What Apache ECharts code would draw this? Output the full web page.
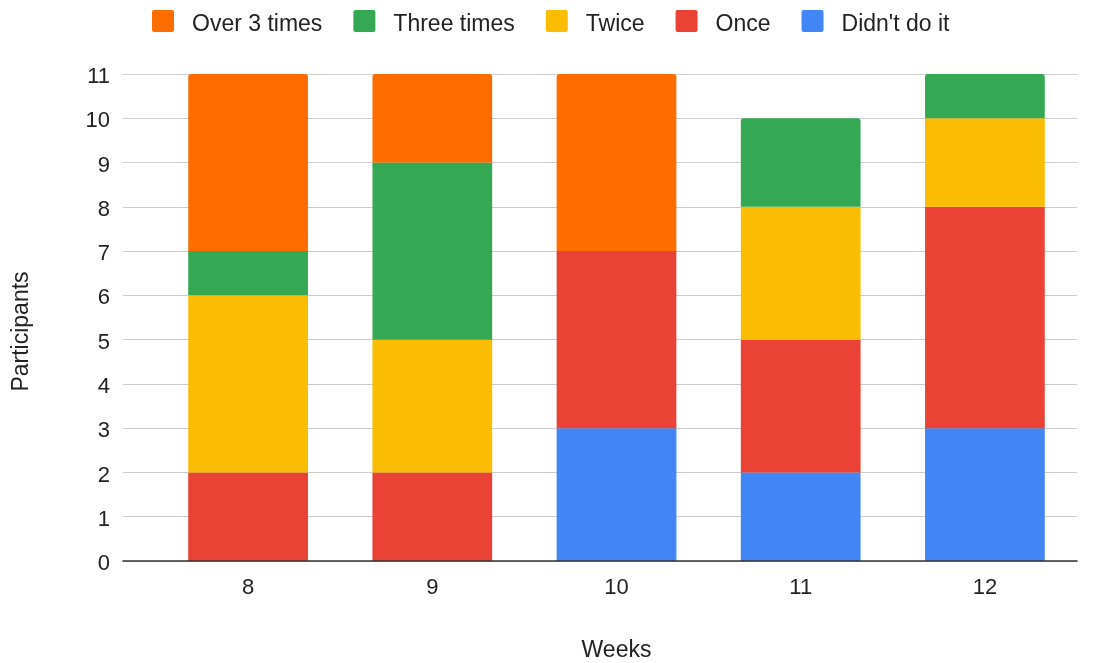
<!DOCTYPE html>
<html>
<head>
<meta charset="utf-8">
<script src="https://cdn.jsdelivr.net/npm/echarts@6/dist/echarts.min.js"></script>
<style>
  html, body { margin: 0; padding: 0; background: #fff; }
  #chart { width: 1102px; height: 663px; }
</style>
</head>
<body>
<div id="chart"></div>
<script>
// Weekly participation counts, stacked from "Didn't do it" upward
const weeks = ['8', '9', '10', '11', '12'];
const didntDoIt = [0, 0, 3, 2, 3];
const once = [2, 2, 4, 3, 5];
const twice = [4, 3, 0, 3, 2];
const threeTimes = [1, 4, 0, 2, 1];
const overThree = [4, 2, 4, 0, 0];
const legendOrder = ['Over 3 times', 'Three times', 'Twice', 'Once', "Didn't do it"];
const yMax = 11;

const stackSeries = [
  { name: "Didn't do it", data: didntDoIt, color: '#4285F4' },
  { name: 'Once', data: once, color: '#EA4335' },
  { name: 'Twice', data: twice, color: '#FBBC04' },
  { name: 'Three times', data: threeTimes, color: '#34A853' },
  { name: 'Over 3 times', data: overThree, color: '#FF6D01' }
];

// Round only the top corners of the topmost non-empty segment in each column
function topIndex(col) {
  let top = -1;
  stackSeries.forEach((s, i) => { if (s.data[col] > 0) top = i; });
  return top;
}

const font = '"Liberation Sans", Arial, sans-serif';
const ink = '#222';
// 22px rounded swatch sitting at the top of a 22x30 box (the trailing moveTo
// only extends the box), so the legend text lines up with the swatch's lower half
const swatch = 'path://M2,0H20A2,2 0 0 1 22,2V20A2,2 0 0 1 20,22H2A2,2 0 0 1 0,20V2A2,2 0 0 1 2,0Z M0,30';

const chart = echarts.init(document.getElementById('chart'), null, { renderer: 'canvas' });
chart.setOption({
  animation: false,
  textStyle: { fontFamily: font },
  legend: {
    data: legendOrder,
    top: 5,
    left: 147,
    itemWidth: 22,
    itemHeight: 30,
    itemGap: 31,
    icon: swatch,
    textStyle: { fontSize: 23, color: ink, fontFamily: font, padding: [0, 0, 0, 13] }
  },
  // grid 0: value axis, gridlines and baseline; grid 1: the category bands with bars
  grid: [
    { left: 123, right: 25, top: 74, bottom: 102, outerBoundsMode: 'none' },
    { left: 156, right: 25, top: 74, bottom: 102, outerBoundsMode: 'none' }
  ],
  xAxis: [
    {
      gridIndex: 0,
      type: 'value',
      min: 0,
      max: 1,
      z: 5,
      axisLine: { show: true, lineStyle: { color: '#333', width: 1.5 } },
      axisTick: { show: false },
      axisLabel: { show: false },
      splitLine: { show: false }
    },
    {
      gridIndex: 1,
      type: 'category',
      data: weeks,
      name: 'Weeks',
      nameLocation: 'middle',
      nameGap: 78,
      nameTextStyle: { fontSize: 23, color: ink, fontFamily: font },
      axisLine: { show: false },
      axisTick: { show: false },
      axisLabel: { fontSize: 22, color: ink, margin: 16, fontFamily: font }
    }
  ],
  yAxis: [
    {
      gridIndex: 0,
      type: 'value',
      min: 0,
      max: yMax,
      interval: 1,
      name: 'Participants',
      nameLocation: 'middle',
      nameGap: 90,
      nameTextStyle: { fontSize: 23, color: ink, fontFamily: font, padding: [0, 28, 0, 0] },
      axisLine: { show: false },
      axisTick: { show: false },
      axisLabel: { fontSize: 22, color: ink, margin: 13, fontFamily: font, verticalAlign: 'top', lineHeight: 6 },
      splitLine: { lineStyle: { color: '#ccc', width: 1 } }
    },
    {
      gridIndex: 1,
      type: 'value',
      min: 0,
      max: yMax,
      interval: 1,
      show: false,
      splitLine: { show: false }
    }
  ],
  series: stackSeries.map((s, si) => ({
    name: s.name,
    type: 'bar',
    stack: 'total',
    xAxisIndex: 1,
    yAxisIndex: 1,
    barWidth: '65%',
    itemStyle: { color: s.color },
    data: s.data.map((v, col) => ({
      value: v,
      itemStyle: { borderRadius: topIndex(col) === si ? [3, 3, 0, 0] : 0 }
    }))
  }))
});
</script>
</body>
</html>
